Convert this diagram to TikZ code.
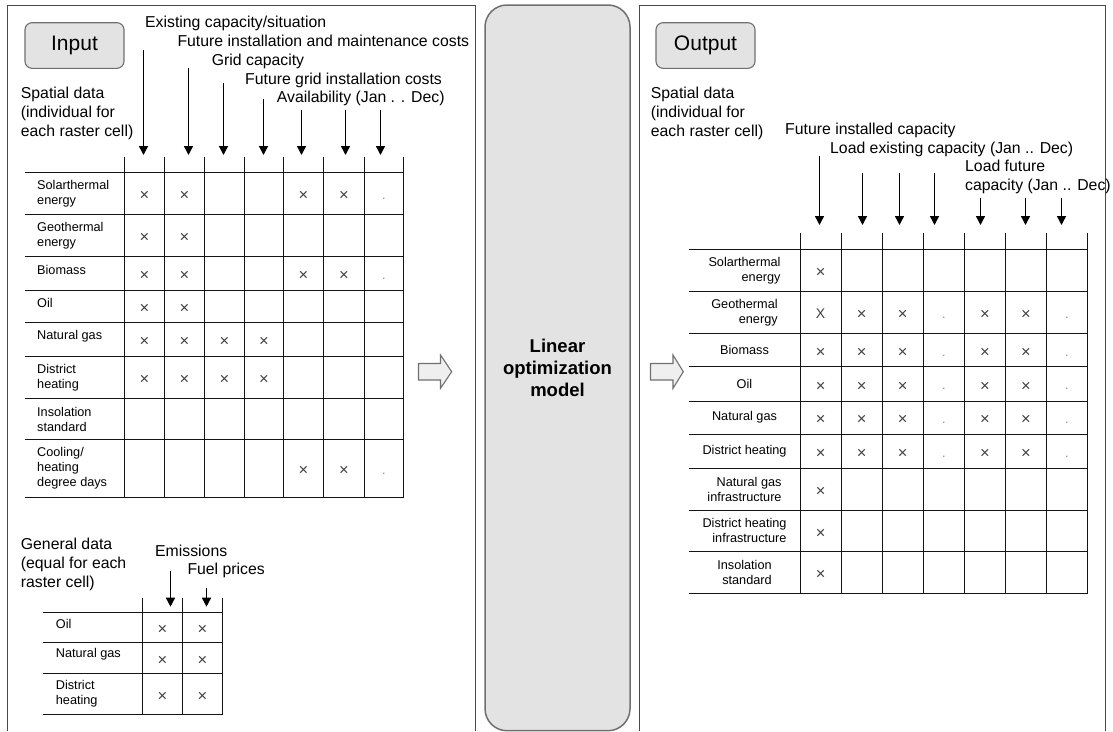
\documentclass[tikz,border=0pt]{standalone}
\usepackage{fontspec}
\setmainfont{Liberation Sans}
\usetikzlibrary{arrows.meta}
\definecolor{panelline}{HTML}{4A4A4A}
\definecolor{boxfill}{HTML}{E3E3E3}
\definecolor{boxline}{HTML}{707070}
\definecolor{arrfill}{HTML}{EFEFEF}
\definecolor{markcol}{HTML}{404040}
\definecolor{dotcol}{HTML}{8A8A8A}
\definecolor{tablecol}{HTML}{141414}
\tikzset{
  panel/.style={draw=panelline, line width=1.3pt},
  iobox/.style={draw=boxline, fill=boxfill, rounded corners=7pt, line width=1.1pt,
    minimum width=99pt, minimum height=45.6pt, inner sep=0pt, font=\fontsize{21}{24}\selectfont},
  modelbox/.style={draw=boxline, fill=boxfill, line width=1.5pt, rounded corners=22pt,
    minimum width=145pt, minimum height=725.7pt, inner sep=0pt, align=center,
    font=\bfseries\fontsize{18.5}{22}\selectfont},
  blockarrow/.style={draw=boxline, fill=arrfill, line width=1.1pt},
  hdr/.style={font=\fontsize{15.8}{19}\selectfont, inner sep=0pt, anchor=base west, align=left},
  rowlab/.style={font=\fontsize{12.7}{15}\selectfont, inner sep=0pt, anchor=west, align=left},
  rowlabc/.style={font=\fontsize{12.7}{15}\selectfont, inner sep=0pt, anchor=center, align=right},
  xmark/.style={font=\fontsize{16.5}{18}\selectfont, inner sep=0pt, anchor=base, text=markcol},
  bigx/.style={font=\fontsize{14}{16}\selectfont, inner sep=0pt, anchor=base, text=markcol},
  dmark/.style={font=\fontsize{12.7}{15}\selectfont, inner sep=0pt, anchor=base, text=dotcol},
  tabline/.style={draw=tablecol, line width=1.4pt},
  downarrow/.style={draw=black, line width=1.4pt, -{Triangle[width=9pt,length=9pt]}},
}
\begin{document}
\begin{tikzpicture}[x=1pt, y=-1pt]
\useasboundingbox (0,0) rectangle (1113,731);
\fill[white] (0,0) rectangle (1113,731);

% ---------- panels ----------
\draw[panel] (7.5,731) -- (7.5,5.5) -- (475.5,5.5) -- (475.5,731);
\draw[panel] (639.5,731) -- (639.5,5.5) -- (1105.5,5.5) -- (1105.5,731);

% ---------- model box ----------
\node[modelbox] (model) at (557.5,367.85) {Linear\\optimization\\model};

% ---------- block arrows ----------
\draw[blockarrow] (418.5,363.5) -- (440.5,363.5) -- (440.5,355) -- (451.7,371.7)
  -- (440.5,388.3) -- (440.5,380) -- (418.5,380) -- cycle;
\draw[blockarrow] (650.5,363.5) -- (673,363.5) -- (673,355) -- (683.3,371.7)
  -- (673,388.3) -- (673,380) -- (650.5,380) -- cycle;

% ---------- input panel ----------
\node[iobox] (input) at (74.5,45.5) {Input};

\node[hdr] (hexist) at (145,27) {Existing capacity/situation};
\node[hdr] (hfuture) at (177.3,46) {Future installation and maintenance costs};
\node[hdr] (hgrid) at (211.7,65.5) {Grid capacity};
\node[hdr] (hgridcost) at (245,84) {Future grid installation costs};
\node[hdr] (havail) at (276.7,102.5) {Availability (Jan . . Dec)};
% base anchor of a multi-line node = baseline of its last line
\node[hdr] (spatialin) at (20.7,136.5) {Spatial data\\(individual for\\each raster cell)};

\foreach \x/\y [count=\k] in {143.5/50, 188.5/68.3, 223.5/83.3, 263.5/99.3, 301.5/110, 345.5/110, 380.5/110} {
  \coordinate (ls\k) at (\x,\y);
  \coordinate (le\k) at (\x,155);
  \draw[downarrow] (ls\k) -- (le\k);
}

\foreach \y in {172.5,214.5,256.5,290.5,322.5,356.5,398.5,439.5,497.5}
  \draw[tabline] (25,\y) -- (403.5,\y);
\foreach \x in {124.5,164.5,204.5,244.5,283.5,323.5,364.5,403.5}
  \draw[tabline] (\x,156.7) -- (\x,497.5);

\node[rowlab] (lr1) at (37,193.5) {Solarthermal\\energy};
\node[rowlab] (lr2) at (37,235.5) {Geothermal\\energy};
\node[rowlab] (lr3) at (37,270.25) {Biomass};
\node[rowlab] (lr4) at (37,303.25) {Oil};
\node[rowlab] (lr5) at (37,336.25) {Natural gas};
\node[rowlab] (lr6) at (37,377.25) {District\\heating};
\node[rowlab] (lr7) at (37,419) {Insolation\\standard};
\node[rowlab] (lr8) at (37,468.25) {Cooling/\\heating\\degree days};

\foreach \x/\y [count=\k] in {144.5/200.8,184.5/200.8,303.5/200.8,344/200.8,
  144.5/242.8,184.5/242.8,
  144.5/280.5,184.5/280.5,303.5/280.5,344/280.5,
  144.5/313.5,184.5/313.5,
  144.5/346.5,184.5/346.5,224.5/346.5,264/346.5,
  144.5/384.5,184.5/384.5,224.5/384.5,264/384.5,
  303.5/475.5,344/475.5}
  \node[xmark] (lx\k) at (\x,\y) {×};
\foreach \y [count=\k] in {199.5,279.25,474.25}
  \node[dmark] (ld\k) at (384,\y) {.};

% general data
\node[hdr] (general) at (20.7,587) {General data\\(equal for each\\raster cell)};
\node[hdr] (hemis) at (155,556.7) {Emissions};
\node[hdr] (hfuel) at (187.3,574.5) {Fuel prices};
\foreach \x/\y [count=\k] in {170.5/571, 206.5/588.3} {
  \coordinate (gs\k) at (\x,\y);
  \coordinate (ge\k) at (\x,606.7);
  \draw[downarrow] (gs\k) -- (ge\k);
}
\foreach \y in {612.5,642.5,673.5,714.5}
  \draw[tabline] (43.3,\y) -- (222.5,\y);
\foreach \x in {142.5,182.5,222.5}
  \draw[tabline] (\x,598.3) -- (\x,714.5);
\node[rowlab] (gr1) at (55.7,624) {Oil};
\node[rowlab] (gr2) at (55.7,654.5) {Natural gas};
\node[rowlab] (gr3) at (55.7,693.8) {District\\heating};
\foreach \x/\y [count=\k] in {162.5/634.8,202.5/634.8,162.5/665.3,202.5/665.3,162.5/701,202.5/701}
  \node[xmark] (gx\k) at (\x,\y) {×};

% ---------- output panel ----------
\node[iobox] (output) at (705.5,45.5) {Output};
\node[hdr] (spatialout) at (650.7,136.5) {Spatial data\\(individual for\\each raster cell)};
\node[hdr] (hinst) at (785,134.5) {Future installed capacity};
\node[hdr] (hload) at (830,153) {Load existing capacity (Jan .. Dec)};
\node[hdr] (hloadf) at (965,190.5) {Load future\\capacity (Jan .. Dec)};

\foreach \x/\y [count=\k] in {819.5/156, 862.5/173.3, 899.5/173.3, 934.5/173.3, 980.5/198.3, 1025.5/198.3, 1061.5/198.3} {
  \coordinate (rs\k) at (\x,\y);
  \coordinate (re\k) at (\x,225);
  \draw[downarrow] (rs\k) -- (re\k);
}

\foreach \y in {249.5,291.5,333.5,366.5,401.5,434.5,468.5,510.5,551.5,593.5}
  \draw[tabline] (689.3,\y) -- (1087.5,\y);
\foreach \x in {800.5,841.5,882.5,923.5,964.5,1005.5,1046.5,1087.5}
  \draw[tabline] (\x,233.3) -- (\x,593.5);

\node[rowlabc] (rr1) at (744.5,270.5) {Solarthermal\\energy};
\node[rowlabc] (rr2) at (744.5,312.5) {Geothermal\\energy};
\node[rowlabc] (rr3) at (744.5,350) {Biomass};
\node[rowlabc] (rr4) at (744.5,383.85) {Oil};
\node[rowlabc] (rr5) at (744.5,417.5) {Natural gas};
\node[rowlabc] (rr6) at (744.5,451.15) {District heating};
\node[rowlabc] (rr7) at (744.5,489.15) {Natural gas\\infrastructure};
\node[rowlabc] (rr8) at (744.5,530.85) {District heating\\infrastructure};
\node[rowlabc] (rr9) at (744.5,572.5) {Insolation\\standard};

\node[bigx] (rbigx) at (820.65,318.2) {X};
\foreach \y [count=\k] in {277.8,496.4,538.1,579.8}
  \node[xmark] (rxa\k) at (820.65,\y) {×};
\foreach \y/\yd [count=\r] in {319.8/318.5,357.3/356,391.1/389.85,424.8/423.5,458.4/457.15} {
  \foreach \x [count=\c] in {861.8,902.8,985,1026}
    \node[xmark] (rx\r-\c) at (\x,\y) {×};
  \node[dmark] (rd\r-1) at (943.8,\yd) {.};
  \node[dmark] (rd\r-2) at (1066.8,\yd) {.};
}
\foreach \y [count=\k] in {357.3,391.1,424.8,458.4}
  \node[xmark] (rxb\k) at (820.65,\y) {×};
\end{tikzpicture}
\end{document}
